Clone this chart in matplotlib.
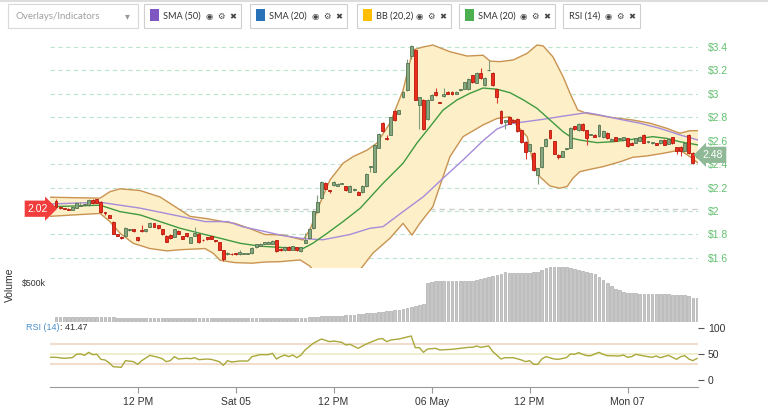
import numpy as np
import pandas as pd
import matplotlib
matplotlib.use("Agg")
import matplotlib.pyplot as plt
from matplotlib.patches import Rectangle
import matplotlib.transforms as mtrans

plt.rcParams['font.family'] = ['Liberation Sans', 'DejaVu Sans']

# ---- data: 30 minute candles, from 2018-05-04 02:00 ----
start_time = "2018-05-04 02:00"

opens = [2.09, 2.035, 2.025, 2.02, 2.01, 2.03, 2.045, 2.05, 2.05, 2.095,
         2.10, 2.08, 1.99, 1.965, 1.91, 1.80, 1.78, 1.79, 1.835, 1.845,
         1.775, 1.84, 1.83, 1.865, 1.895, 1.88, 1.845, 1.79, 1.795, 1.78,
         1.83, 1.785, 1.81, 1.73, 1.79, 1.805, 1.755, 1.775, 1.785, 1.75,
         1.735, 1.665, 1.63, 1.635, 1.64, 1.63, 1.635, 1.635, 1.64, 1.69,
         1.705, 1.72, 1.72, 1.72, 1.75, 1.68, 1.665, 1.695, 1.67, 1.69,
         1.655, 1.73, 1.77, 1.855, 1.99, 2.11, 2.24, 2.175, 2.22, 2.215,
         2.235, 2.21, 2.165, 2.18, 2.165, 2.16, 2.21, 2.375, 2.335, 2.54,
         2.755, 2.625, 2.65, 2.855, 2.83, 2.97, 3.03, 3.32, 3.375, 2.905,
         2.95, 2.785, 2.95, 3.02, 2.93, 2.98, 3.02, 3.02, 3.00, 3.03,
         3.045, 3.04, 3.16, 3.095, 3.18, 3.075, 3.20, 3.18, 3.04, 2.855,
         2.76, 2.80, 2.78, 2.785, 2.69, 2.59, 2.515, 2.495, 2.31, 2.375,
         2.555, 2.69, 2.595, 2.48, 2.465, 2.53, 2.54, 2.725, 2.69, 2.745,
         2.69, 2.65, 2.65, 2.64, 2.63, 2.67, 2.60, 2.63, 2.615, 2.605,
         2.62, 2.585, 2.585, 2.60, 2.65, 2.59, 2.58, 2.58, 2.58, 2.61,
         2.575, 2.63, 2.545, 2.55, 2.515, 2.65, 2.495, 2.46]
closes = [2.035, 2.025, 2.02, 2.01, 2.035, 2.07, 2.055, 2.06, 2.095, 2.065,
          2.07, 1.99, 1.98, 1.945, 1.805, 1.79, 1.77, 1.855, 1.845, 1.83,
          1.75, 1.83, 1.845, 1.90, 1.865, 1.855, 1.80, 1.74, 1.77, 1.845,
          1.805, 1.765, 1.785, 1.775, 1.815, 1.735, 1.75, 1.76, 1.765, 1.745,
          1.67, 1.59, 1.645, 1.63, 1.63, 1.65, 1.635, 1.64, 1.685, 1.715,
          1.72, 1.735, 1.74, 1.745, 1.655, 1.665, 1.695, 1.67, 1.70, 1.665,
          1.69, 1.75, 1.85, 2.00, 2.08, 2.25, 2.19, 2.17, 2.25, 2.235,
          2.235, 2.18, 2.215, 2.19, 2.14, 2.215, 2.32, 2.38, 2.565, 2.66,
          2.68, 2.615, 2.80, 2.775, 2.86, 3.02, 3.26, 3.41, 2.95, 2.97,
          2.70, 2.95, 2.99, 2.99, 2.925, 3.00, 3.00, 2.995, 3.02, 3.04,
          3.10, 3.13, 3.10, 3.18, 3.135, 3.135, 3.205, 3.075, 2.975, 2.75,
          2.775, 2.745, 2.76, 2.68, 2.59, 2.505, 2.57, 2.35, 2.365, 2.545,
          2.615, 2.62, 2.49, 2.46, 2.51, 2.535, 2.71, 2.70, 2.745, 2.69,
          2.62, 2.65, 2.635, 2.735, 2.685, 2.62, 2.615, 2.60, 2.615, 2.63,
          2.555, 2.565, 2.62, 2.635, 2.585, 2.595, 2.58, 2.565, 2.605, 2.565,
          2.615, 2.58, 2.515, 2.51, 2.585, 2.495, 2.41, 2.48]
highs = [2.10, 2.04, 2.03, 2.025, 2.04, 2.075, 2.075, 2.065, 2.10, 2.105,
         2.105, 2.085, 1.995, 1.97, 1.915, 1.805, 1.785, 1.86, 1.85, 1.85,
         1.78, 1.88, 1.85, 1.905, 1.90, 1.885, 1.85, 1.795, 1.80, 1.85,
         1.835, 1.79, 1.815, 1.78, 1.86, 1.81, 1.76, 1.78, 1.79, 1.755,
         1.74, 1.67, 1.65, 1.64, 1.645, 1.665, 1.64, 1.645, 1.69, 1.72,
         1.725, 1.74, 1.745, 1.75, 1.755, 1.685, 1.70, 1.70, 1.705, 1.695,
         1.695, 1.81, 1.855, 2.005, 2.14, 2.255, 2.245, 2.18, 2.255, 2.24,
         2.24, 2.215, 2.22, 2.195, 2.17, 2.22, 2.325, 2.385, 2.57, 2.665,
         2.76, 2.65, 2.805, 2.86, 2.865, 3.025, 3.30, 3.42, 3.38, 2.975,
         2.955, 2.955, 2.995, 3.05, 2.935, 3.05, 3.025, 3.025, 3.025, 3.045,
         3.105, 3.135, 3.165, 3.185, 3.22, 3.14, 3.29, 3.185, 3.045, 2.86,
         2.78, 2.805, 2.785, 2.79, 2.695, 2.595, 2.575, 2.50, 2.37, 2.55,
         2.62, 2.695, 2.60, 2.485, 2.515, 2.54, 2.715, 2.73, 2.75, 2.75,
         2.695, 2.655, 2.655, 2.74, 2.69, 2.675, 2.62, 2.635, 2.62, 2.635,
         2.625, 2.59, 2.625, 2.64, 2.655, 2.60, 2.585, 2.585, 2.61, 2.615,
         2.62, 2.635, 2.55, 2.555, 2.59, 2.66, 2.50, 2.485]
lows = [2.03, 2.02, 2.015, 2.005, 2.005, 2.025, 2.04, 2.045, 2.045, 2.06,
        2.065, 1.985, 1.97, 1.94, 1.80, 1.785, 1.765, 1.785, 1.83, 1.825,
        1.745, 1.825, 1.825, 1.86, 1.86, 1.85, 1.795, 1.735, 1.765, 1.775,
        1.80, 1.76, 1.78, 1.725, 1.785, 1.73, 1.745, 1.755, 1.76, 1.74,
        1.665, 1.575, 1.625, 1.625, 1.625, 1.625, 1.63, 1.63, 1.635, 1.685,
        1.70, 1.715, 1.715, 1.715, 1.65, 1.66, 1.66, 1.665, 1.665, 1.66,
        1.65, 1.725, 1.765, 1.85, 1.985, 2.105, 2.185, 2.15, 2.215, 2.21,
        2.23, 2.175, 2.16, 2.175, 2.135, 2.155, 2.205, 2.33, 2.33, 2.535,
        2.675, 2.61, 2.645, 2.77, 2.825, 2.965, 3.025, 3.30, 2.945, 2.70,
        2.695, 2.78, 2.945, 2.985, 2.92, 2.975, 2.995, 2.99, 2.995, 3.025,
        3.04, 3.035, 3.095, 3.09, 3.13, 3.07, 3.195, 3.07, 2.92, 2.745,
        2.70, 2.74, 2.755, 2.675, 2.585, 2.445, 2.51, 2.345, 2.23, 2.37,
        2.55, 2.615, 2.485, 2.445, 2.46, 2.525, 2.535, 2.695, 2.685, 2.685,
        2.565, 2.645, 2.63, 2.635, 2.625, 2.615, 2.595, 2.595, 2.61, 2.60,
        2.55, 2.56, 2.58, 2.595, 2.58, 2.585, 2.575, 2.56, 2.575, 2.56,
        2.57, 2.575, 2.49, 2.47, 2.51, 2.49, 2.405, 2.455]

# volume in $k
volume = [64, 62, 63, 64, 62, 63, 64, 63, 62, 64,
          63, 64, 68, 68, 67, 52, 51, 52, 50, 51,
          52, 51, 50, 51, 52, 51, 50, 51, 52, 51,
          50, 51, 51, 52, 51, 50, 51, 52, 51, 50,
          51, 52, 51, 50, 51, 51, 52, 51, 50, 51,
          52, 51, 50, 51, 52, 51, 52, 51, 52, 53,
          55, 57, 60, 64, 68, 73, 75, 76, 77, 78,
          80, 85, 90, 95, 100, 105, 110, 115, 120, 125,
          130, 137, 142, 148, 155, 165, 180, 195, 205, 218,
          235, 500, 515, 520, 522, 522, 522, 522, 522, 522,
          522, 525, 530, 535, 551, 560, 572, 586, 606, 620,
          637, 628, 628, 630, 628, 628, 630, 637, 645, 663,
          692, 705, 705, 705, 705, 705, 690, 680, 668, 658,
          645, 628, 610, 577, 540, 500, 455, 423, 404, 385,
          372, 372, 370, 360, 359, 359, 359, 359, 359, 358,
          356, 350, 350, 340, 340, 330, 314, 312]

# indicator lines, read at candle positions
bb_up_t = [-1.5, 10.8, 13.2, 15.7, 20.6, 25.5, 30.4, 32.8, 37, 40.9, 43.8, 47.5, 51.2,
           55.6, 60.5, 62.2, 64.7, 67.1, 70.3, 72.8, 76.2, 78.6, 81.8, 85, 87.4, 89.9,
           92.3, 96.5, 100.7, 104.6, 106.3, 108.7, 112, 115.4, 117.8, 119.3, 121.7,
           124.2, 125.9, 127.8, 130, 132.5, 135.7, 141.3, 145.5, 149.6, 152.8, 155.3, 157.3]
bb_up = [2.118, 2.11, 2.165, 2.19, 2.175, 2.12, 2.01, 1.955, 1.935, 1.91, 1.895, 1.85, 1.80,
         1.796, 1.753, 1.84, 2.07, 2.265, 2.408, 2.465, 2.52, 2.58, 2.75, 3.03, 3.375, 3.40,
         3.417, 3.36, 3.323, 3.33, 3.28, 3.275, 3.29, 3.346, 3.417, 3.41, 3.317,
         3.147, 3.005, 2.862, 2.834, 2.82, 2.80, 2.777, 2.75, 2.706, 2.664, 2.686, 2.686]
bb_lo_t = [-1.5, 10.8, 13.2, 15.7, 18.9, 23, 27.2, 30.4, 36.5, 38.5, 40.2, 43.8, 48, 51.2,
           54.9, 59.8, 62.2, 64.7, 67.8, 70.8, 74.5, 77.6, 81.8, 85, 87.2, 89.1, 92.3,
           94.8, 96.5, 99.7, 104.6, 108, 111.2, 112.4, 115.4, 116.8, 118.5, 121, 123.4,
           125.2, 126.6, 128.3, 130.8, 134, 138.1, 141.3, 144.7, 148.7, 152.8, 155.3, 157.3]
bb_lo = [1.955, 1.98, 1.91, 1.81, 1.725, 1.68, 1.66, 1.67, 1.68, 1.64, 1.58, 1.56, 1.555, 1.565,
         1.568, 1.583, 1.53, 1.42, 1.33, 1.38, 1.50, 1.64, 1.768, 1.895, 1.795, 1.895, 2.037,
         2.293, 2.465, 2.635, 2.735, 2.79, 2.805, 2.75, 2.635, 2.42, 2.293, 2.214, 2.195,
         2.21, 2.28, 2.336, 2.356, 2.379, 2.42, 2.459, 2.47, 2.493, 2.52, 2.464, 2.408]
sma20_t = [-1.5, 10.8, 15.7, 20.6, 25.5, 30.4, 35.3, 40.2, 45.1, 50, 54.9, 60.5, 62.9, 66.4,
           70.3, 74.5, 80.1, 85, 88.4, 91.6, 94.8, 98.2, 101.4, 104.6, 108, 111.2, 114.4,
           117.8, 121, 124.2, 126.6, 128.3, 132.5, 136.4, 139.8, 143, 146.2, 149.6, 152.8, 157.3]
sma20 = [2.037, 2.05, 1.995, 1.967, 1.91, 1.853, 1.81, 1.768, 1.725, 1.70, 1.69, 1.68, 1.725, 1.81,
         1.91, 2.024, 2.237, 2.408, 2.58, 2.72, 2.862, 2.948, 3.005, 3.05, 3.04, 3.01, 2.95,
         2.877, 2.777, 2.677, 2.62, 2.606, 2.584, 2.592, 2.606, 2.62, 2.635, 2.62, 2.592, 2.564]
sma50_t = [-1.5, 10.8, 20.6, 30.4, 36.5, 42.1, 45.6, 51.2, 55.6, 60.5, 65.4, 72, 76.9, 80.1,
           85, 89.9, 94.8, 99.7, 104.6, 108, 111.2, 114.4, 119.3, 124.2, 130, 133.2, 138.1,
           143, 147.9, 152.8, 157.3]
sma50 = [2.06, 2.075, 2.025, 1.955, 1.91, 1.91, 1.867, 1.825, 1.79, 1.765, 1.755, 1.80, 1.853, 1.867,
         1.995, 2.12, 2.28, 2.436, 2.60, 2.70, 2.745, 2.76, 2.783, 2.81, 2.84, 2.82, 2.783,
         2.75, 2.706, 2.65, 2.606]

rsi_t = [-1.5, 0, 2, 4, 5, 6, 7, 8, 9, 10, 11, 12, 13, 14, 16, 17, 19, 20, 21, 23, 25, 26, 27,
         28, 29, 30, 32, 33, 34, 35, 37, 38, 40, 41, 42, 43, 45, 47, 48, 50, 52, 53, 54, 55,
         56, 57, 58, 59, 60, 61, 63, 65, 67, 68, 70, 71, 72, 74, 76, 79, 80, 81, 82, 84, 87,
         88, 89, 90, 91, 93, 94, 97, 99, 101, 102, 103, 104, 106, 107, 109, 110, 112, 114,
         115, 116, 117, 118, 119, 120, 122, 123, 125, 126, 127, 128, 129, 130, 131, 133,
         134, 135, 138, 139, 140, 141, 142, 144, 146, 147, 148, 150, 152, 153, 154, 155,
         156, 157]
rsi = [43.6, 43.6, 41.7, 43, 49.4, 50, 47.4, 53.2, 48.7, 49.4, 39.7, 38.5, 33.3, 25.6, 24.4,
       37.2, 35.3, 30.1, 37.2, 47.4, 43.6, 41, 35.3, 37.2, 44.9, 40.4, 41.7, 41, 42.9, 39.1,
       40.4, 39.7, 35.3, 28.2, 37.2, 34.6, 36.5, 36.5, 44.9, 48.7, 48.7, 51.3, 40.4, 44.9,
       48, 44.9, 48, 42.9, 48, 57.7, 70.5, 78.8, 73.7, 75, 72.4, 67.3, 68.6, 60.9, 69.2,
       78.8, 79.5, 73.7, 76.9, 78.8, 84.6, 62.2, 62.2, 53.2, 59.6, 60.9, 57.7, 59, 60.9,
       62.8, 62.8, 65.4, 62.8, 65.4, 54.5, 40.4, 42.9, 42.9, 38.5, 35.3, 37.2, 30.1, 30.1,
       40.4, 44.9, 40.4, 39.7, 42.9, 50, 49.4, 52.6, 49.4, 46.8, 46.8, 53.2, 49.4, 46.8,
       46.2, 48, 43.6, 44.9, 49.4, 46.2, 43.6, 46.2, 42.9, 47.4, 39.7, 44.9, 46.8, 40.4,
       37.2, 41.47]

start_price = 2.02
price_ticks = [1.6, 1.8, 2.0, 2.2, 2.4, 2.6, 2.8, 3.0, 3.2, 3.4]
price_labels = ["$1.6", "$1.8", "$2", "$2.2", "$2.4", "$2.6", "$2.8", "$3", "$3.2", "$3.4"]
tick_times = ["2018-05-04 12:00", "2018-05-05 00:00", "2018-05-05 12:00",
              "2018-05-06 00:00", "2018-05-06 12:00", "2018-05-07 00:00"]
tick_labels = ["12 PM", "Sat 05", "12 PM", "06 May", "12 PM", "Mon 07"]

buttons = [("SMA (50)", "#7e57c2", 144, 241),
           ("SMA (20)", "#2a72b8", 250, 347),
           ("BB (20,2)", "#ffbf00", 357, 451),
           ("SMA (20)", "#4caf50", 459, 555),
           ("RSI (14)", None, 563, 640)]

# ---- figure ----
opens, closes = np.array(opens), np.array(closes)
highs, lows = np.array(highs), np.array(lows)
n = len(opens)
times = pd.date_range(start_time, periods=n, freq="30min")
x = np.arange(n)
tick_pos = times.get_indexer(pd.to_datetime(tick_times))

W, H = 768, 415
fig = plt.figure(figsize=(W / 100, H / 100), dpi=100)


def px_rect(l, t, r, b):
    return [l / W, 1 - b / H, (r - l) / W, (b - t) / H]


xlim = (-1.47, 157.25)

# price panel
ax = fig.add_axes(px_rect(50, 38, 698, 268))
ax.set_facecolor("none")
ax.set_xlim(*xlim)
ax.set_ylim(1.514, 3.477)
for s in ax.spines.values():
    s.set_visible(False)
ax.set_xticks([])
ax.yaxis.tick_right()
ax.set_yticks(price_ticks)
ax.set_yticklabels(price_labels)
ax.tick_params(axis="y", length=0, pad=7, labelsize=7.5, labelcolor="#62bf6e")
for p in price_ticks:
    ax.axhline(p, color="#bfe4cc", lw=0.8, ls=(0, (4, 3)), zorder=0)
ax.axhline(start_price, color="#cccccc", lw=1, ls=(0, (4, 3)), zorder=0)

band_x = np.concatenate([bb_up_t, bb_lo_t[::-1]])
band_y = np.concatenate([bb_up, bb_lo[::-1]])
ax.fill(band_x, band_y, color="#fdf0c9", lw=0, zorder=1)
ax.plot(bb_up_t, bb_up, color="#c99350", lw=1, zorder=2)
ax.plot(bb_lo_t, bb_lo, color="#c99350", lw=1, zorder=2)
ax.plot(sma50_t, sma50, color="#a68cd8", lw=1, zorder=3)
ax.plot(sma20_t, sma20, color="#3f9a3f", lw=1, zorder=3)

up = closes >= opens
face = np.where(up, "#86a77f", "#ec2c1c")
edge = np.where(up, "#52734f", "#b3180c")
ax.vlines(x, lows, highs, colors=np.where(up, "#7f9c7a", "#d9382a"), lw=0.8, zorder=4)
body_h = np.maximum(np.abs(closes - opens), 0.006)
ax.bar(x, body_h, bottom=np.minimum(opens, closes), width=0.72,
       color=face, edgecolor=edge, linewidth=0.6, zorder=5)

# volume panel
axv = fig.add_axes(px_rect(50, 262, 698, 322))
axv.set_facecolor("none")
axv.bar(x, volume, width=0.68, color="#c6c6c6", edgecolor="#a0a0a0", linewidth=0.4)
axv.set_xlim(*xlim)
axv.set_ylim(0, 769)
for s in axv.spines.values():
    s.set_visible(False)
axv.set_xticks([])
axv.set_yticks([500])
axv.set_yticklabels(["$500k"])
axv.tick_params(axis="y", length=0, pad=3, labelsize=6.3, labelcolor="#333333")
fig.text(10 / W, 1 - 285 / H, "Volume", rotation=90, ha="center", va="center",
         fontsize=7.5, color="#333333")

# RSI panel
axr = fig.add_axes(px_rect(50, 323, 698, 387))
axr.set_facecolor("none")
axr.set_xlim(*xlim)
axr.set_ylim(-13.46, 109.6)
axr.axhline(70, color="#f2dccb", lw=1.5, zorder=1)
axr.axhline(30, color="#f2dccb", lw=1.5, zorder=1)
axr.axhline(50, color="#ecebc6", lw=1.2, zorder=1)
axr.plot(rsi_t, rsi, color="#a9a83a", lw=1, zorder=2)
for k in ["top", "left", "right"]:
    axr.spines[k].set_visible(False)
axr.spines["bottom"].set_color("#999999")
axr.yaxis.tick_right()
axr.set_yticks([0, 50, 100])
axr.set_yticklabels(["0", "50", "100"])
axr.tick_params(axis="y", length=4, width=0.8, color="#555555", pad=3,
                labelsize=7.5, labelcolor="#333333")
axr.set_xticks(tick_pos)
axr.set_xticklabels(tick_labels)
axr.tick_params(axis="x", length=4, width=0.8, color="#999999", pad=3,
                labelsize=7.5, labelcolor="#333333")

# toolbar / overlay in pixel coords
axt = fig.add_axes([0, 0, 1, 1], zorder=10)
axt.set_facecolor("none")
axt.set_xlim(0, W)
axt.set_ylim(H, 0)
axt.axis("off")
axt.plot([0, W], [0.8, 0.8], color="#dddddd", lw=1.5)

rsi_lbl = axt.text(26, 327, "RSI (14)", fontsize=6.5, color="#4a8fcf", va="center")
axt.annotate(": %.2f" % rsi[-1], xy=(1, 0.5), xycoords=rsi_lbl, va="center",
             fontsize=6.5, color="#333333")

ui_font = ["Lato", "DejaVu Sans"]
axt.add_patch(Rectangle((8, 4), 130, 24, fc="white", ec="#d9d9d9", lw=0.8))
axt.text(15, 16.5, "Overlays/Indicators", fontsize=7, color="#a0a0a0",
         va="center", family=ui_font)
axt.text(127, 16.5, "▾", fontsize=7, color="#999999", va="center", ha="center",
         family=["DejaVu Sans"])
for label, col, left, right in buttons:
    axt.add_patch(Rectangle((left, 4), right - left, 24, fc="white", ec="#cfcfcf", lw=0.8))
    tx = left + 6
    if col:
        axt.add_patch(Rectangle((left + 6, 9.5), 9, 12, fc=col, ec="none"))
        tx = left + 19
    axt.text(tx, 16.5, label, fontsize=6.6, color="#333333", va="center", family=ui_font)
    for off, icon in [(32, "◉"), (20, "⚙"), (8, "✖")]:
        axt.text(right - off, 16.5, icon, fontsize=6, color="#444444",
                 va="center", ha="center", family=["DejaVu Sans"])

# price tags
tag = mtrans.blended_transform_factory(axt.transData, ax.transData)
axt.text(38, start_price, "%.2f" % start_price, transform=tag, fontsize=7.5, color="white",
         ha="center", va="center",
         bbox=dict(boxstyle="rarrow,pad=0.3", fc="#f23d3d", ec="none"))
axt.text(713, closes[-1], "%.2f" % closes[-1], transform=tag, fontsize=7.5, color="white",
         ha="center", va="center",
         bbox=dict(boxstyle="larrow,pad=0.3", fc="#8fb996", ec="none"))

fig.savefig("out.png", dpi=100)
